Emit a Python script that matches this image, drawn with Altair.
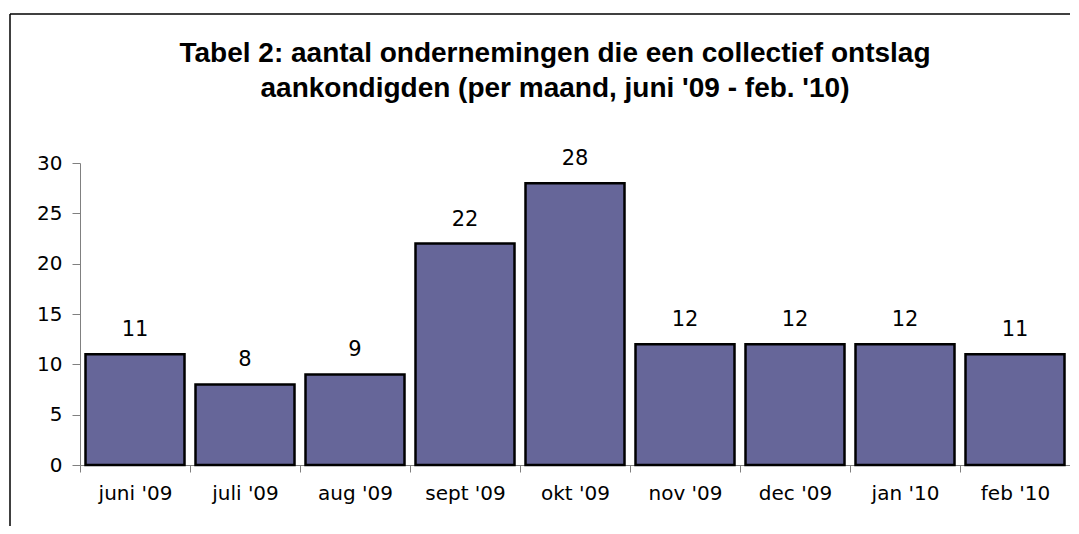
import altair as alt
import pandas as pd

months = ["juni '09", "juli '09", "aug '09", "sept '09", "okt '09", "nov '09", "dec '09", "jan '10", "feb '10"]
counts = [11, 8, 9, 22, 28, 12, 12, 12, 11]
y_ticks = [0, 5, 10, 15, 20, 25, 30]
title_lines = ["Tabel 2: aantal ondernemingen die een collectief ontslag",
               "aankondigden (per maand, juni '09 - feb. '10)"]

df = pd.DataFrame({"maand": months, "aantal": counts})
FONT = "DejaVu Sans"
TITLE_FONT = "Liberation Sans"

x_enc = alt.X("maand:N", sort=months,
              scale=alt.Scale(paddingInner=0, paddingOuter=0),
              axis=alt.Axis(title=None, labelAngle=0, tickBand="extent",
                            labelFontSize=20, labelFont=FONT, labelColor="black",
                            labelPadding=11, tickSize=7, tickColor="#808080",
                            domainColor="#808080", grid=False))
y_enc = alt.Y("aantal:Q", scale=alt.Scale(domain=[0, 30], nice=False),
              axis=alt.Axis(title=None, values=y_ticks, labelFontSize=20,
                            labelFont=FONT, labelColor="black", labelPadding=10,
                            tickSize=8, tickColor="#808080", domainColor="#808080",
                            grid=False))

base = alt.Chart(df)
bars = base.mark_bar(fill="#666699", stroke="black", strokeWidth=2.5,
                     width=alt.RelativeBandSize(0.9)).encode(x=x_enc, y=y_enc)
labels = base.mark_text(font=FONT, fontSize=21, color="black", baseline="alphabetic",
                        dy=-18).encode(x=alt.X("maand:N", sort=months), y="aantal:Q",
                                       text="aantal:Q")

frame_df = pd.DataFrame({"k": [0]})
top_line = alt.Chart(frame_df).mark_rule(color="black", strokeWidth=1.5).encode(
    x=alt.value(-70), x2=alt.value(1100), y=alt.value(-149))
left_line = alt.Chart(frame_df).mark_rule(color="black", strokeWidth=1.5).encode(
    x=alt.value(-70), y=alt.value(-149), y2=alt.value(420))

chart = alt.layer(top_line, left_line, bars, labels).properties(
    width=990, height=302,
    autosize=alt.AutoSizeParams(type="none"),
    padding={"left": 72, "top": 155, "right": 0, "bottom": 61},
    title=alt.TitleParams(title_lines, font=TITLE_FONT, fontSize=28, fontWeight="bold",
                          color="black", anchor="middle", frame="group", dx=-20,
                          offset=-90, lineHeight=35),
).configure_view(stroke=None)

chart.save("out.html", embed_options={"renderer": "svg", "actions": False})
